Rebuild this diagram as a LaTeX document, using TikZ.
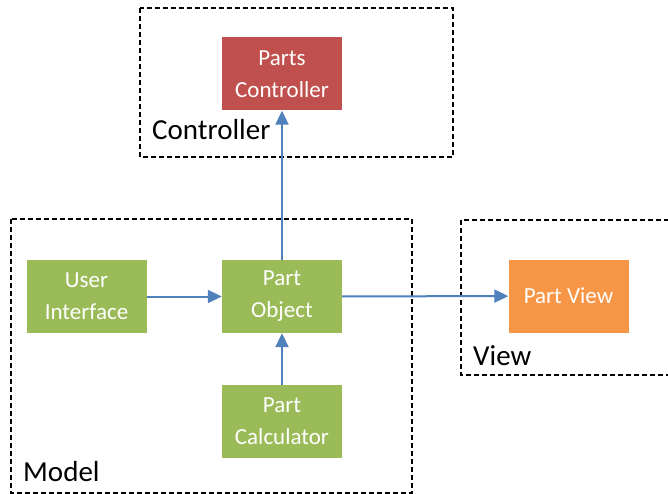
\documentclass[tikz,border=0pt]{standalone}
\usepackage{fontspec}
\setmainfont{Carlito}
\usetikzlibrary{arrows.meta}
\definecolor{cred}{HTML}{C0504D}
\definecolor{cgreen}{HTML}{9BBB59}
\definecolor{corange}{HTML}{F79646}
\definecolor{cblue}{HTML}{4F81BD}
\tikzset{
  blk/.style={minimum width=120pt, minimum height=73pt, inner sep=0pt, text=white,
    align=center, font=\fontsize{23}{32}\selectfont},
  grp/.style={draw=black, line width=1.5pt, dash pattern=on 5pt off 3pt},
  grplabel/.style={anchor=base west, inner sep=0pt, font=\fontsize{29}{34}\selectfont},
  conn/.style={draw=cblue, line width=2pt, -{Triangle[length=14pt,width=13pt]}}
}
\begin{document}
\begin{tikzpicture}[x=1pt,y=-1pt]
\useasboundingbox (0,0) rectangle (668,494);
\fill[white] (0,0) rectangle (668,494);
% group boxes
\draw[grp] (140,8) rectangle (453,157);
\draw[grp] (11,219) rectangle (412,493);
\draw[grp] (461,220) rectangle (690,375);
\node[grplabel] (lc) at (152,140) {Controller};
\node[grplabel] (lm) at (23,481) {Model};
\node[grplabel] (lv) at (473,365) {View};
% blocks
\node[blk, fill=cred] (pc) at (282,74) {Parts\\Controller};
\node[blk, fill=cgreen] (ui) at (86.5,296.5) {User\\Interface};
\node[blk, fill=cgreen] (po) at (282,296.5) {Part\\Object};
\node[blk, fill=cgreen] (calc) at (282,421.5) {Part\\Calculator};
\node[blk, fill=corange] (pv) at (568.5,296) {Part View};
% connectors
\draw[conn] (ui) -- (po);
\draw[conn] (calc) -- (po);
\draw[conn] (po) -- (pc);
\draw[conn] (po) -- (pv);
\end{tikzpicture}
\end{document}
